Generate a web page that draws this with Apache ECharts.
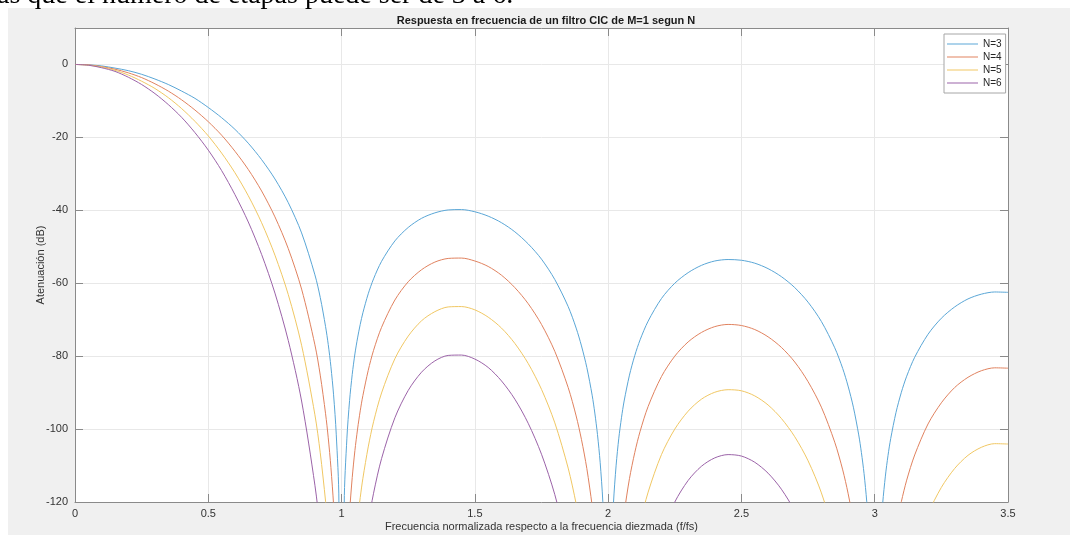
<!DOCTYPE html>
<html><head><meta charset="utf-8">
<script src="https://cdn.jsdelivr.net/npm/echarts@6/dist/echarts.min.js"></script>
<style>html,body{margin:0;padding:0;background:#fff;overflow:hidden;}#c{width:1070px;height:535px;}</style>
</head><body><div id="c"></div><script>
// normalized frequency (f/fs) sample points
const freq = [0,0.05,0.1,0.15,0.2,0.25,0.3,0.35,0.4,0.45,0.5,0.55,0.6,0.65,0.7,0.75,0.8,0.85,0.9,0.92,0.94,0.95,0.96,0.97,0.98,0.99,1.0,1.01,1.02,1.03,1.04,1.05,1.06,1.07,1.08,1.1,1.12,1.15,1.2,1.25,1.3,1.35,1.4,1.45,1.5,1.55,1.6,1.65,1.7,1.75,1.8,1.85,1.88,1.9,1.92,1.94,1.95,1.96,1.97,1.98,1.99,2.0,2.01,2.02,2.03,2.04,2.05,2.06,2.08,2.1,2.12,2.15,2.2,2.25,2.3,2.35,2.4,2.45,2.5,2.55,2.6,2.65,2.7,2.75,2.8,2.85,2.88,2.9,2.92,2.94,2.95,2.96,2.97,2.98,2.99,3.0,3.01,3.02,3.03,3.04,3.05,3.06,3.08,3.1,3.12,3.15,3.2,3.25,3.3,3.35,3.4,3.45,3.5];
// attenuation (dB) per number of stages
const atenN3 = [0,-0.1,-0.4,-1.0,-1.7,-2.7,-4.0,-5.5,-7.3,-9.3,-11.8,-14.6,-17.8,-21.6,-26.1,-31.4,-37.9,-46.2,-57.7,-63.9,-71.9,-76.8,-82.9,-90.6,-101.4,-119.7,-400,-120.3,-102.5,-92.2,-85.0,-79.4,-75.0,-71.3,-68.1,-62.9,-58.8,-54.0,-48.4,-44.7,-42.2,-40.7,-39.9,-39.8,-40.4,-41.6,-43.4,-45.9,-49.2,-53.4,-59.0,-66.4,-72.3,-77.2,-83.1,-90.7,-95.6,-101.5,-109.1,-119.8,-137.9,-400,-138.2,-120.3,-109.9,-102.5,-96.9,-92.3,-85.2,-79.8,-75.5,-70.4,-64.2,-60.0,-57.1,-55.1,-53.9,-53.5,-53.7,-54.5,-56.0,-58.2,-61.2,-65.2,-70.5,-77.7,-83.4,-88.2,-94.0,-101.6,-106.4,-112.2,-119.8,-130.4,-148.5,-400,-148.7,-130.8,-120.3,-112.9,-107.2,-102.6,-95.4,-89.9,-85.5,-80.3,-74.0,-69.6,-66.5,-64.3,-63.0,-62.4,-62.5];
const atenN4 = [0,-0.1,-0.6,-1.3,-2.3,-3.6,-5.3,-7.3,-9.7,-12.5,-15.7,-19.4,-23.8,-28.8,-34.7,-41.8,-50.5,-61.6,-76.9,-85.2,-95.8,-102.4,-110.5,-120.8,-135.2,-159.7,-400,-160.3,-136.6,-122.9,-113.3,-105.9,-100.0,-95.0,-90.8,-83.9,-78.4,-72.1,-64.6,-59.6,-56.3,-54.2,-53.2,-53.1,-53.9,-55.4,-57.8,-61.2,-65.6,-71.3,-78.7,-88.6,-96.4,-102.9,-110.8,-121.0,-127.4,-135.3,-145.4,-159.7,-183.9,-400,-184.3,-160.4,-146.5,-136.7,-129.2,-123.1,-113.6,-106.4,-100.6,-93.8,-85.6,-80.0,-76.1,-73.5,-71.9,-71.3,-71.6,-72.7,-74.7,-77.6,-81.6,-87.0,-94.0,-103.6,-111.2,-117.6,-125.4,-135.4,-141.8,-149.6,-159.7,-173.9,-198.1,-400,-198.3,-174.3,-160.4,-150.6,-143.0,-136.8,-127.2,-119.9,-114.0,-107.1,-98.6,-92.8,-88.6,-85.8,-84.0,-83.2,-83.3];
const atenN5 = [0,-0.2,-0.7,-1.6,-2.9,-4.6,-6.6,-9.1,-12.1,-15.6,-19.6,-24.3,-29.7,-36.0,-43.4,-52.3,-63.1,-77.0,-96.1,-106.5,-119.8,-128.1,-138.1,-151.0,-169.1,-199.6,-400,-200.4,-170.8,-153.6,-141.6,-132.4,-125.0,-118.8,-113.5,-104.9,-98.0,-90.1,-80.7,-74.5,-70.3,-67.8,-66.5,-66.4,-67.3,-69.3,-72.3,-76.5,-82.0,-89.1,-98.3,-110.7,-120.5,-128.6,-138.5,-151.2,-159.3,-169.1,-181.8,-199.6,-229.9,-400,-230.3,-200.5,-183.1,-170.9,-161.5,-153.8,-142.0,-132.9,-125.8,-117.3,-107.0,-100.0,-95.1,-91.8,-89.9,-89.2,-89.5,-90.9,-93.4,-97.1,-102.1,-108.7,-117.5,-129.5,-139.1,-147.0,-156.7,-169.3,-177.3,-187.0,-199.6,-217.3,-247.6,-400,-247.9,-217.9,-200.5,-188.2,-178.7,-171.0,-159.0,-149.9,-142.5,-133.8,-123.3,-116.0,-110.8,-107.2,-105.0,-104.0,-104.1];
const atenN6 = [0,-0.2,-0.9,-1.9,-3.5,-5.5,-8.0,-11.0,-14.5,-18.7,-23.5,-29.1,-35.7,-43.2,-52.1,-62.7,-75.7,-92.3,-115.4,-127.8,-143.7,-153.7,-165.8,-181.2,-202.9,-239.5,-400,-240.5,-204.9,-184.4,-169.9,-158.9,-150.0,-142.5,-136.2,-125.8,-117.6,-108.1,-96.9,-89.4,-84.4,-81.3,-79.8,-79.7,-80.8,-83.1,-86.8,-91.8,-98.4,-106.9,-118.0,-132.9,-144.6,-154.3,-166.2,-181.5,-191.1,-203.0,-218.2,-239.5,-275.9,-400,-276.4,-240.6,-219.7,-205.1,-193.8,-184.6,-170.3,-159.5,-150.9,-140.7,-128.4,-120.0,-114.1,-110.2,-107.9,-107.0,-107.4,-109.1,-112.1,-116.5,-122.5,-130.4,-141.0,-155.4,-166.9,-176.4,-188.0,-203.1,-212.7,-224.4,-239.6,-260.8,-297.1,-400,-297.4,-261.5,-240.6,-225.8,-214.5,-205.2,-190.8,-179.8,-171.0,-160.6,-148.0,-139.1,-132.9,-128.7,-126.0,-124.8,-124.9];
const seriesNames = ['N=3','N=4','N=5','N=6'];
const seriesValues = [atenN3, atenN4, atenN5, atenN6];
const xTickInterval = 0.5;
const yTickInterval = 20;

const colors = ['#5aa6d6','#e0825f','#f0c763','#9b63a8'];
const axisColor = '#8a8a8a';
const labelColor = '#333333';
const sans = '"Liberation Sans", Arial, sans-serif';

const chart = echarts.init(document.getElementById('c'), null, {renderer:'canvas'});
const series = seriesNames.map((name, i) => ({
  name: name,
  type: 'line',
  data: freq.map((f, k) => [f, seriesValues[i][k]]),
  symbol: 'none',
  showSymbol: false,
  smooth: 0.3,
  clip: true,
  lineStyle: {width: 1, color: colors[i]},
  itemStyle: {color: colors[i]},
  emphasis: {disabled: true},
  z: 5
}));

const baseAxis = {
  axisLine: {show: true, onZero: false, lineStyle: {color: axisColor, width: 1}},
  axisTick: {show: true, inside: true, length: 8, lineStyle: {color: axisColor}},
  nameMoveOverlap: false
};

chart.setOption({
  animation: false,
  backgroundColor: '#ffffff',
  graphic: [
    {type: 'rect', z: -100, silent: true, shape: {x: 8, y: 8, width: 1062, height: 527}, style: {fill: '#f0f0f0'}},
    {type: 'text', z: 100, silent: true, x: -3, y: -4, style: {text: 'as que el número de etapas puede ser de 3 a 6.', font: '28px "Liberation Serif", "Times New Roman", serif', fill: '#000', verticalAlign: 'middle', align: 'left'}}
  ],
  title: {
    text: 'Respuesta en frecuencia de un filtro CIC de M=1 segun N',
    left: 541, top: 10, textAlign: 'center',
    textStyle: {fontFamily: sans, fontSize: 11, fontWeight: 'bold', color: '#1a1a1a'}
  },
  legend: {
    data: seriesNames.map((n, i) => ({name: n, icon: 'rect', itemStyle: {color: colors[i]}})),
    orient: 'vertical', left: 944, top: 34,
    backgroundColor: '#ffffff', borderColor: '#a6a6a6', borderWidth: 1, borderRadius: 0,
    padding: [4, 4, 4, 3], itemWidth: 31, itemHeight: 1, itemGap: 1,
    textStyle: {fontFamily: sans, fontSize: 10, color: '#262626', lineHeight: 12},
    selectedMode: false
  },
  grid: {left: 75, right: 62, top: 28, bottom: 33, show: true, backgroundColor: '#ffffff', borderWidth: 0, outerBoundsMode: 'none', containLabel: false},
  xAxis: [
    Object.assign({}, baseAxis, {
      type: 'value', min: 0, max: 3.5, interval: xTickInterval, position: 'bottom',
      name: 'Frecuencia normalizada respecto a la frecuencia diezmada (f/fs)',
      nameLocation: 'middle', nameGap: 19,
      nameTextStyle: {fontFamily: sans, fontSize: 11, color: labelColor},
      axisLabel: {fontFamily: sans, fontSize: 11, color: labelColor, margin: 6},
      splitLine: {show: true, lineStyle: {color: '#e8e8e8', width: 1}}
    }),
    Object.assign({}, baseAxis, {
      type: 'value', min: 0, max: 3.5, interval: xTickInterval, position: 'top',
      axisLabel: {show: false}, splitLine: {show: false}
    })
  ],
  yAxis: [
    Object.assign({}, baseAxis, {
      type: 'value', min: -120, max: 10, interval: yTickInterval, position: 'left',
      name: 'Atenuación (dB)', nameLocation: 'middle', nameGap: 29, nameRotate: 90,
      nameTextStyle: {fontFamily: sans, fontSize: 11, color: labelColor},
      axisLabel: {fontFamily: sans, fontSize: 11, color: labelColor, margin: 7, showMaxLabel: false},
      splitLine: {show: true, lineStyle: {color: '#e8e8e8', width: 1}}
    }),
    Object.assign({}, baseAxis, {
      type: 'value', min: -120, max: 10, interval: yTickInterval, position: 'right',
      axisLabel: {show: false}, splitLine: {show: false}
    })
  ],
  series: series
});
</script></body></html>
